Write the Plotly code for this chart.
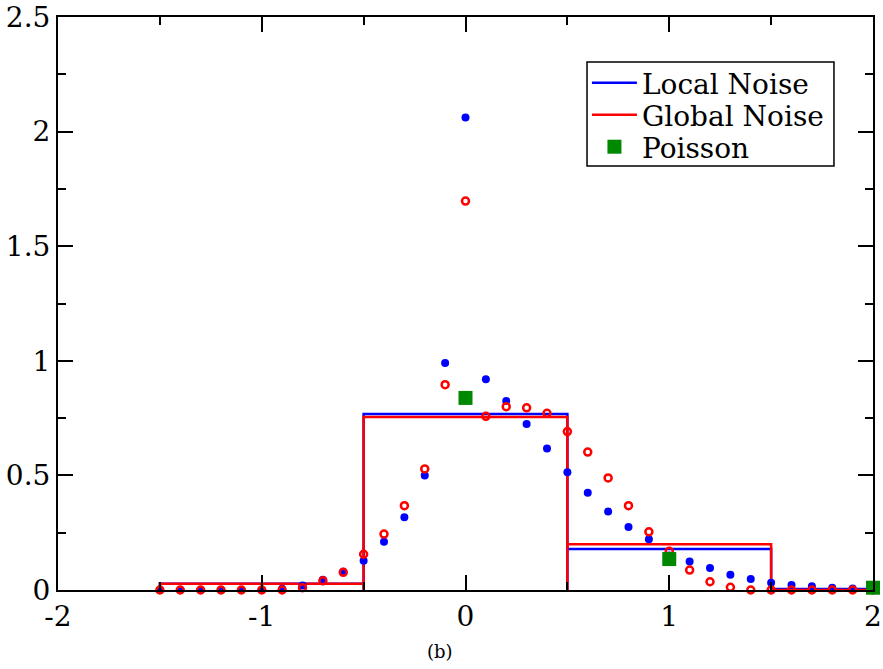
import plotly.graph_objects as go

# point grid
x_pts = [round(-1.5 + 0.1 * i, 1) for i in range(36)]

local_pts = [0, 0, 0, 0, 0, 0, 0.005, 0.02, 0.045, 0.08,
             0.128, 0.21, 0.317, 0.50, 0.99, 2.062, 0.919, 0.825, 0.724, 0.617,
             0.514, 0.424, 0.342, 0.275, 0.221, 0.15, 0.124, 0.096, 0.067, 0.048,
             0.032, 0.022, 0.016, 0.010, 0.006, 0.004]

global_pts = [0, 0, 0, 0, 0, 0, 0, 0.01, 0.04, 0.077,
              0.156, 0.244, 0.368, 0.528, 0.896, 1.697, 0.758, 0.80, 0.795, 0.771,
              0.691, 0.602, 0.489, 0.368, 0.254, 0.169, 0.087, 0.036, 0.012, 0.0,
              0, 0, 0, 0, 0, 0]

# histogram bins
bin_edges = [-1.5, -0.5, 0.5, 1.5, 2.0]
local_hist = [0.027, 0.768, 0.179, 0.004]
global_hist = [0.027, 0.755, 0.20, 0.0]

poisson_x = [0, 1, 2]
poisson_y = [0.838, 0.135, 0.01]

x_ticks = [-2, -1, 0, 1, 2]
x_ticklabels = ["-2", "-1", "0", "1", "2"]
y_ticks = [0, 0.5, 1, 1.5, 2, 2.5]
y_ticklabels = ["0", "0.5", "1", "1.5", "2", "2.5"]


def step_path(edges, heights):
    xs, ys = [edges[0]], [0]
    for i, h in enumerate(heights):
        xs += [edges[i], edges[i + 1]]
        ys += [h, h]
        if i < len(heights) - 1:
            xs.append(edges[i + 1])
            ys.append(0)
    return xs, ys


fig = go.Figure()
lx, ly = step_path(bin_edges, local_hist)
gx, gy = step_path(bin_edges, global_hist)
fig.add_trace(go.Scatter(x=lx, y=ly, mode="lines", name="Local Noise", legend="legend",
                         line=dict(color="#0000ff", width=2.5)))
fig.add_trace(go.Scatter(x=gx, y=gy, mode="lines", name="Global Noise", legend="legend2",
                         line=dict(color="#ff0000", width=2.5)))
fig.add_trace(go.Scatter(x=x_pts, y=local_pts, mode="markers", showlegend=False,
                         marker=dict(color="#0000ff", size=8, symbol="circle"),
                         cliponaxis=False))
fig.add_trace(go.Scatter(x=x_pts, y=global_pts, mode="markers", showlegend=False,
                         marker=dict(color="#ff0000", size=7, symbol="circle-open",
                                     line=dict(color="#ff0000", width=2.5)),
                         cliponaxis=False))
fig.add_trace(go.Scatter(x=poisson_x, y=poisson_y, mode="markers", name="Poisson",
                         legend="legend3",
                         marker=dict(color="#008800", size=14, symbol="square",
                                     line=dict(width=0)),
                         cliponaxis=False))

font_family = "DejaVu Serif"


def leg(yc):
    return dict(x=0.649, y=yc, xanchor="left", yanchor="middle",
                bgcolor="rgba(0,0,0,0)", borderwidth=0,
                font=dict(family=font_family, size=28), itemwidth=45)


fig.update_layout(
    width=883, height=669,
    margin=dict(l=58, r=10, t=17, b=79),
    plot_bgcolor="white", paper_bgcolor="white",
    font=dict(family=font_family, size=28, color="black"),
    showlegend=True,
    legend=leg(0.8848), legend2=leg(0.829), legend3=leg(0.7731),
    shapes=[dict(type="rect", xref="paper", yref="paper",
                 x0=0.6491, x1=0.9521, y0=0.740, y1=0.9215,
                 line=dict(color="black", width=1.5), fillcolor="white",
                 layer="below")],
    xaxis=dict(range=[-2, 2], tickvals=x_ticks, ticktext=x_ticklabels,
               ticks="inside", ticklen=15, tickwidth=1.5, tickcolor="black",
               showline=True, linecolor="black", linewidth=2, mirror="ticks",
               showgrid=False, zeroline=False, automargin=False,
               minor=dict(dtick=0.5, ticks="inside", ticklen=8, tickwidth=1.5,
                          tickcolor="black", showgrid=False),
               tickfont=dict(family=font_family, size=28)),
    yaxis=dict(range=[0, 2.5], tickvals=y_ticks, ticktext=y_ticklabels,
               ticks="inside", ticklen=15, tickwidth=1.5, tickcolor="black",
               showline=True, linecolor="black", linewidth=2, mirror="ticks",
               showgrid=False, zeroline=False, automargin=False,
               minor=dict(dtick=0.25, ticks="inside", ticklen=8, tickwidth=1.5,
                          tickcolor="black", showgrid=False),
               tickfont=dict(family=font_family, size=28)),
    annotations=[dict(text="(b)", x=0.469, y=-0.108, xref="paper", yref="paper",
                      yanchor="middle", showarrow=False,
                      font=dict(family=font_family, size=18))],
)

fig.write_html("out.html")
